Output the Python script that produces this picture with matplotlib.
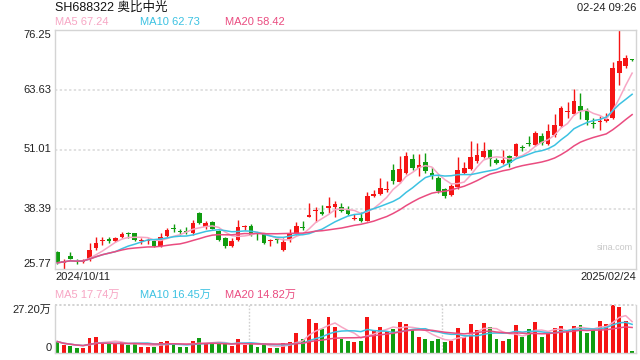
import numpy as np
import pandas as pd
import matplotlib
matplotlib.use('Agg')
import matplotlib.pyplot as plt

# daily candles, SH688322, 2024/10/11 - 2025/02/24
opens = [29.40, 27.07, 28.55, 27.39, 27.29, 27.92, 30.24, 31.62, 32.14, 31.72,
         32.57, 33.30, 33.41, 31.62, 31.72, 31.72, 30.66, 32.78, 34.36, 33.83,
         33.83, 33.41, 37.63, 34.68, 35.73, 33.83, 32.35, 30.66, 31.93, 34.57,
         34.89, 33.41, 33.20, 31.62, 32.04, 29.82, 32.14, 33.20, 34.68, 36.79,
         37.95, 37.85, 38.69, 38.90, 38.90, 38.48, 36.37, 36.58, 35.94, 41.22,
         41.65, 42.49, 46.72, 44.18, 46.08, 49.04, 47.14, 48.41, 46.08, 45.03,
         42.70, 41.44, 43.13, 46.08, 46.93, 48.62, 49.46, 50.94, 48.83, 48.19,
         49.67, 49.67, 51.47, 52.42, 52.00, 53.90, 52.21, 54.11, 56.01, 58.86,
         58.54, 60.23, 59.18, 56.54, 56.75, 57.06, 57.70, 67.20, 68.68, 70.05]
closes = [27.07, 27.50, 27.92, 27.18, 27.71, 29.82, 31.30, 31.83, 31.72, 32.35,
          33.20, 33.09, 31.93, 31.83, 31.93, 30.66, 32.57, 34.04, 34.15, 33.62,
          33.52, 35.52, 35.52, 35.52, 34.26, 31.93, 30.66, 31.72, 34.68, 34.78,
          32.99, 33.20, 31.30, 31.83, 31.83, 31.51, 33.20, 34.89, 34.47, 37.21,
          38.16, 37.42, 39.11, 39.54, 38.06, 37.42, 36.58, 35.94, 41.22, 41.65,
          42.91, 42.70, 44.39, 46.93, 49.67, 47.14, 47.77, 46.50, 45.45, 42.28,
          41.22, 43.34, 46.72, 47.14, 49.46, 49.88, 50.73, 49.04, 48.19, 48.83,
          48.19, 52.21, 51.26, 52.21, 54.53, 52.42, 54.95, 56.22, 59.81, 59.07,
          61.29, 59.18, 57.28, 56.33, 56.96, 57.49, 68.20, 69.80, 70.37, 69.84]
highs = [29.61, 27.92, 29.40, 27.92, 27.92, 31.30, 32.57, 32.57, 32.57, 32.57,
         33.62, 33.62, 33.45, 32.35, 32.35, 31.93, 33.41, 34.47, 35.31, 34.26,
         34.68, 36.16, 37.85, 35.94, 35.94, 34.04, 32.57, 32.35, 36.16, 35.10,
         35.31, 33.62, 33.41, 32.14, 32.57, 32.35, 34.26, 35.73, 35.94, 39.75,
         38.90, 39.32, 41.01, 40.17, 39.75, 39.11, 37.42, 37.85, 42.07, 42.49,
         45.03, 44.39, 47.98, 49.67, 50.52, 50.10, 50.10, 50.31, 47.35, 45.45,
         42.91, 43.76, 49.46, 48.41, 52.84, 52.42, 52.63, 51.15, 49.25, 50.94,
         49.88, 52.42, 52.00, 53.90, 54.95, 54.53, 56.43, 58.54, 60.23, 61.08,
         63.82, 62.98, 59.81, 57.70, 58.12, 58.75, 69.53, 76.25, 71.00, 70.10]
lows = [26.86, 25.77, 27.82, 26.86, 27.07, 27.50, 29.82, 30.88, 31.30, 31.51,
        32.35, 32.35, 31.72, 31.09, 31.09, 30.45, 30.45, 32.57, 33.62, 32.99,
        33.20, 32.99, 35.31, 34.26, 34.15, 31.72, 30.24, 30.45, 31.72, 34.04,
        32.78, 31.93, 31.09, 30.66, 31.30, 29.61, 31.51, 32.99, 34.04, 36.69,
        35.73, 37.21, 37.63, 36.79, 37.85, 37.21, 36.16, 35.73, 35.84, 41.01,
        41.44, 42.07, 43.76, 43.97, 45.87, 46.72, 45.45, 46.08, 44.82, 41.86,
        40.80, 41.22, 42.70, 45.87, 46.72, 48.19, 49.25, 47.56, 47.98, 47.98,
        47.35, 49.46, 50.73, 51.78, 51.78, 52.00, 52.00, 53.69, 55.80, 57.70,
        58.33, 57.49, 56.22, 55.59, 55.16, 56.85, 57.49, 64.67, 68.26, 69.80]
# volume, 万股
volumes = [6.5, 4.5, 4.0, 3.0, 3.0, 8.5, 9.0, 6.0, 5.0, 5.0,
           6.0, 4.5, 5.5, 3.5, 3.5, 3.5, 6.5, 7.0, 5.0, 3.5,
           3.5, 7.0, 8.5, 5.0, 5.0, 5.5, 5.5, 4.0, 8.0, 4.5,
           5.0, 3.5, 4.5, 3.0, 3.0, 5.5, 6.5, 11.3, 8.0, 19.3,
           17.0, 13.6, 20.4, 14.7, 8.0, 7.0, 6.0, 7.0, 20.4, 13.0,
           14.7, 11.9, 13.6, 17.6, 16.4, 13.0, 9.0, 8.0, 7.0, 8.0,
           6.0, 7.0, 14.2, 9.0, 16.4, 13.0, 17.0, 14.7, 8.0, 7.0,
           8.0, 15.9, 9.0, 13.6, 17.6, 9.0, 11.9, 14.2, 15.3, 12.5,
           15.3, 15.9, 11.3, 13.0, 18.1, 16.4, 27.2, 26.1, 18.1, 0.9]

first_date = '2024/10/11'
last_date = '2025/02/24'
title = 'SH688322 奥比中光'
stamp = '02-24 09:26'
ma_text = ['MA5 67.24', 'MA10 62.73', 'MA20 58.42']
vol_ma_text = ['MA5 17.74万', 'MA10 16.45万', 'MA20 14.82万']

RED = '#f51414'
GREEN = '#109c10'
MA_COLORS = ['#f7a6c4', '#3cc2e2', '#ea4c80']
FRAME = '#d4d4d4'
GRID = '#dedede'
FONT = ['Liberation Sans', 'Noto Sans CJK SC']

W, H = 640, 360
fig = plt.figure(figsize=(6.4, 3.6), dpi=100)


def fx(px):
    return px / W


def fy(py):
    return 1 - py / H


ax = fig.add_axes([fx(55), fy(269), fx(636 - 55), (269 - 30) / H])
axv = fig.add_axes([fx(55), fy(353), fx(636 - 55), (353 - 305) / H])

o = np.array(opens)
c = np.array(closes)
x = np.arange(len(c))
cols = np.where(c >= o, RED, GREEN)
cols[-1] = GREEN

ax.vlines(x, lows, highs, colors=cols, lw=1.0)
ax.bar(x, np.maximum(np.abs(c - o), 0.22), bottom=np.minimum(o, c),
       width=0.72, color=cols, lw=0)

close_s = pd.Series(closes)
for n, col in zip([5, 10, 20], MA_COLORS):
    ax.plot(x, close_s.rolling(n, min_periods=1).mean(), color=col, lw=1.1)

lo, hi = min(lows), max(highs)
ax.set_ylim(lo, hi)
ax.set_xlim(-0.35, len(c) - 0.4)
step = (hi - lo) / 4
levels = [hi - step * k for k in range(5)]
for lv in levels[1:-1]:
    ax.axhline(lv, color=GRID, lw=1.3, ls=(0, (1.3, 1.3)), zorder=0)
ytr = ax.get_yaxis_transform()
for k, lv in enumerate(levels):
    va = 'top' if k == 0 else ('bottom' if k == 4 else 'center')
    ax.text(-0.006, lv, f'{lv:.2f}', transform=ytr, ha='right', va=va,
            fontsize=8, family=FONT, color='#222222')

ax.set_xticks([])
ax.set_yticks([])
for sp in ax.spines.values():
    sp.set_color(FRAME)
    sp.set_linewidth(1.0)
ax.text(0.995, 0.09, 'sina.com', transform=ax.transAxes, ha='right',
        va='center', fontsize=6.5, color='#c8c8c8', family=FONT)

# volume panel
axv.bar(x, volumes, width=0.6, color=cols, lw=0)
vol_s = pd.Series(volumes)
for n, col in zip([5, 10, 20], MA_COLORS):
    axv.plot(x, vol_s.rolling(n, min_periods=1).mean(), color=col, lw=1.1)
vmax = max(volumes)
axv.set_ylim(0, vmax)
axv.set_xlim(ax.get_xlim())
axv.set_xticks([])
axv.set_yticks([])
for side in ['left', 'right', 'bottom']:
    axv.spines[side].set_color(FRAME)
    axv.spines[side].set_linewidth(1.0)
axv.spines['top'].set_visible(False)
axv.axhline(vmax, color='#d0d0d0', lw=1.3, ls=(0, (1.2, 1.2)), clip_on=False)
for frac in [1 / 3, 2 / 3]:
    axv.axvline(-0.35 + frac * (len(c) - 0.05), color='#d0d0d0', lw=1.0,
                ls=(0, (1.2, 1.2)), zorder=0)
vtr = axv.get_yaxis_transform()
axv.text(-0.006, vmax, f'{vmax:.2f}万', transform=vtr, ha='right', va='top',
         fontsize=8, family=FONT, color='#222222')
axv.text(-0.006, 0, '0', transform=vtr, ha='right', va='bottom',
         fontsize=8, family=FONT, color='#222222')

# header texts
fig.text(fx(55), fy(8), title, ha='left', va='center', fontsize=9,
         family=FONT, color='#111111')
fig.text(fx(636), fy(8), stamp, ha='right', va='center', fontsize=8,
         family=FONT, color='#222222')
for t, col, px in zip(ma_text, MA_COLORS, [55, 140, 225]):
    fig.text(fx(px), fy(22), t, ha='left', va='center', fontsize=8,
             family=FONT, color=col)
fig.text(fx(55), fy(277), first_date, ha='left', va='center', fontsize=8,
         family=FONT, color='#222222')
fig.text(fx(636), fy(277), last_date, ha='right', va='center', fontsize=8,
         family=FONT, color='#222222')
for t, col, px in zip(vol_ma_text, MA_COLORS, [55, 140, 225]):
    fig.text(fx(px), fy(295), t, ha='left', va='center', fontsize=8,
             family=FONT, color=col)

fig.savefig('out.png', dpi=100)
